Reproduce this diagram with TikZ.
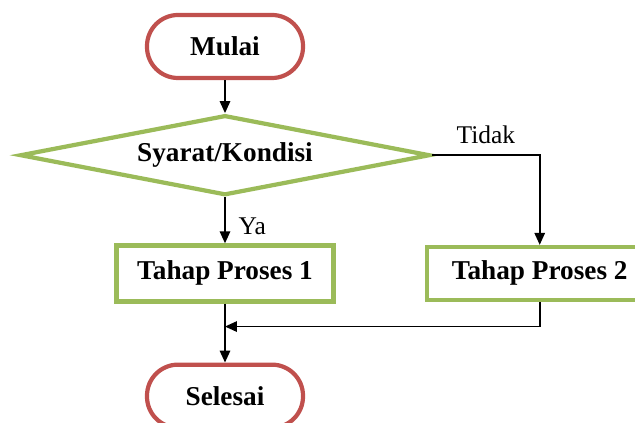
\documentclass[tikz,border=0pt]{standalone}
\usepackage{fontspec}
\setmainfont{Liberation Serif}
\usetikzlibrary{arrows.meta,positioning,shapes.geometric}
\definecolor{endred}{HTML}{C0504D}
\definecolor{stepgreen}{HTML}{9BBB59}

\begin{document}
\begin{tikzpicture}[
terminal/.style={draw=endred,line width=2.4pt,rounded corners=.62cm,minimum width=3.12cm,minimum height=1.26cm,font=\fontsize{15.5}{18}\selectfont\bfseries},
decision/.style={draw=stepgreen,line width=2.4pt,diamond,aspect=5,minimum width=8.2cm,minimum height=1.6cm,inner sep=1pt,font=\fontsize{15.5}{18}\selectfont\bfseries},
process/.style={draw=stepgreen,line width=2.4pt,minimum height=1.12cm,font=\fontsize{15.5}{18}\selectfont\bfseries},
lbl/.style={font=\fontsize{14.5}{16}\selectfont},
arr/.style={-{Triangle[length=2.4mm,width=2.1mm]},line width=.9pt}]
\useasboundingbox (-4.5,-7.53) rectangle (8.2,.93);
\clip (-4.5,-7.53) rectangle (8.2,.93);
\node[terminal](mulai){Mulai};
\node[decision,below=.66cm of mulai](cond){Syarat/Kondisi};
\node[process,minimum width=4.34cm,below=.92cm of cond](p1){Tahap Proses 1};
\node[process,minimum width=4.52cm,minimum height=1.06cm,right=1.78cm of p1](p2){Tahap Proses 2};
\node[terminal,below=1.18cm of p1](selesai){Selesai};
\coordinate[below=.46cm of p1](join);
\draw[arr](mulai)--(cond);
\draw[arr](cond)--node[right=4pt,pos=.62,lbl]{Ya}(p1);
\draw[arr](cond.east)-|node[pos=.25,above=3pt,lbl]{Tidak}(p2);
\draw[arr](p1)--(selesai);
\draw[arr](p2.south)|-(join);
\end{tikzpicture}
\end{document}
